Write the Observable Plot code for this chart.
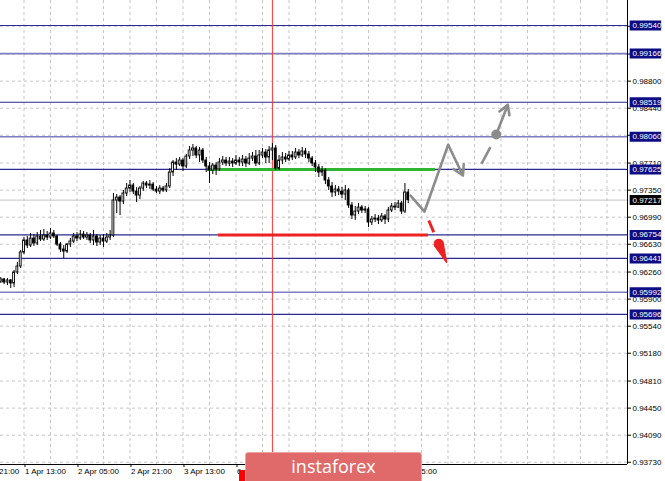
<!DOCTYPE html>
<html><head><meta charset="utf-8">
<script src="https://cdn.jsdelivr.net/npm/d3@7"></script>
<script src="https://cdn.jsdelivr.net/npm/@observablehq/plot@0.6"></script>
<style>
html,body{margin:0;padding:0;background:#fff;}
#wrap{position:relative;width:665px;height:481px;overflow:hidden;}
#logo{position:absolute;left:245px;top:452px;width:177px;height:34px;background:#e06a6a;border:1px solid #f0a3a3;border-radius:3px;box-sizing:border-box;color:#fff;font-family:"Open Sans",sans-serif;font-size:18px;text-align:center;line-height:26px;}
#redtag{position:absolute;left:239px;top:470px;width:7px;height:11px;background:#ff0000;}
</style></head><body>
<div id="wrap"><div id="chart"></div><div id="redtag"></div><div id="logo">instaforex</div></div>
<script>
// H1 candles, first visible bar index (bar 0 = 31 Mar 21:00)
const firstBar = 9;
const open = [0.96134,0.96161,0.96121,0.96148,0.96108,0.96254,0.96334,0.96520,0.96680,0.96613,
0.96706,0.96640,0.96733,0.96693,0.96746,0.96719,0.96773,0.96733,0.96626,0.96560,
0.96533,0.96626,0.96666,0.96733,0.96706,0.96759,0.96719,0.96746,0.96680,0.96733,
0.96653,0.96706,0.96666,0.96719,0.96746,0.97212,0.97251,0.97198,0.97305,0.97371,
0.97411,0.97331,0.97278,0.97371,0.97438,0.97411,0.97424,0.97358,0.97331,0.97371,
0.97345,0.97398,0.97584,0.97717,0.97690,0.97744,0.97664,0.97797,0.97877,0.97904,
0.97811,0.97877,0.97744,0.97664,0.97611,0.97677,0.97624,0.97717,0.97744,0.97704,
0.97730,0.97704,0.97744,0.97717,0.97757,0.97704,0.97770,0.97797,0.97704,0.97811,
0.97850,0.97784,0.97877,0.97904,0.97637,0.97744,0.97784,0.97757,0.97811,0.97784,
0.97850,0.97811,0.97864,0.97824,0.97770,0.97704,0.97651,0.97584,0.97611,0.97478,
0.97398,0.97318,0.97358,0.97331,0.97291,0.97345,0.97145,0.97012,0.97065,0.97118,
0.97079,0.97092,0.96919,0.96959,0.96972,0.96946,0.96999,0.96959,0.97079,0.97132,
0.97118,0.97172,0.97065,0.97318];
const close = [0.96161,0.96121,0.96148,0.96108,0.96254,0.96334,0.96520,0.96680,0.96613,0.96706,
0.96640,0.96733,0.96693,0.96746,0.96719,0.96773,0.96733,0.96626,0.96560,0.96533,
0.96626,0.96666,0.96733,0.96706,0.96759,0.96719,0.96746,0.96680,0.96733,0.96653,
0.96706,0.96666,0.96719,0.96746,0.97212,0.97251,0.97198,0.97305,0.97371,0.97411,
0.97331,0.97278,0.97371,0.97438,0.97411,0.97424,0.97358,0.97331,0.97371,0.97345,
0.97398,0.97584,0.97717,0.97690,0.97744,0.97664,0.97797,0.97877,0.97904,0.97811,
0.97877,0.97744,0.97664,0.97611,0.97677,0.97624,0.97717,0.97744,0.97704,0.97730,
0.97704,0.97744,0.97717,0.97757,0.97704,0.97770,0.97797,0.97704,0.97811,0.97850,
0.97784,0.97877,0.97904,0.97637,0.97744,0.97784,0.97757,0.97811,0.97784,0.97850,
0.97811,0.97864,0.97824,0.97770,0.97704,0.97651,0.97584,0.97611,0.97478,0.97398,
0.97318,0.97358,0.97331,0.97291,0.97345,0.97145,0.97012,0.97065,0.97118,0.97079,
0.97092,0.96919,0.96959,0.96972,0.96946,0.96999,0.96959,0.97079,0.97132,0.97118,
0.97172,0.97065,0.97318,0.97217];
const high = [0.96187,0.96174,0.96174,0.96161,0.96281,0.96387,0.96547,0.96719,0.96733,0.96773,
0.96759,0.96786,0.96813,0.96826,0.96799,0.96839,0.96813,0.96746,0.96653,0.96613,
0.96640,0.96706,0.96773,0.96786,0.96813,0.96799,0.96786,0.96773,0.96813,0.96759,
0.96746,0.96759,0.96773,0.96813,0.97305,0.97291,0.97278,0.97345,0.97438,0.97478,
0.97438,0.97384,0.97398,0.97464,0.97464,0.97478,0.97451,0.97398,0.97411,0.97398,
0.97438,0.97637,0.97744,0.97770,0.97784,0.97770,0.97824,0.97930,0.97957,0.97930,
0.97917,0.97904,0.97784,0.97717,0.97704,0.97717,0.97770,0.97797,0.97784,0.97784,
0.97770,0.97811,0.97784,0.97811,0.97797,0.97837,0.97850,0.97877,0.97877,0.97904,
0.97890,0.97930,0.97970,0.97944,0.97811,0.97850,0.97837,0.97864,0.97864,0.97904,
0.97890,0.97917,0.97904,0.97864,0.97797,0.97744,0.97690,0.97664,0.97637,0.97517,
0.97451,0.97411,0.97398,0.97384,0.97411,0.97371,0.97185,0.97132,0.97172,0.97145,
0.97132,0.97118,0.96999,0.97025,0.97012,0.97039,0.97025,0.97118,0.97172,0.97185,
0.97212,0.97198,0.97438,0.97358];
const low = [0.96108,0.96094,0.96081,0.96041,0.96054,0.96227,0.96307,0.96493,0.96573,0.96586,
0.96600,0.96613,0.96666,0.96666,0.96680,0.96693,0.96706,0.96600,0.96520,0.96440,
0.96507,0.96586,0.96640,0.96666,0.96680,0.96693,0.96680,0.96640,0.96613,0.96600,
0.96613,0.96586,0.96640,0.96680,0.96719,0.97039,0.97012,0.97158,0.97265,0.97318,
0.97291,0.97185,0.97225,0.97331,0.97371,0.97358,0.97331,0.97305,0.97291,0.97318,
0.97318,0.97371,0.97531,0.97611,0.97664,0.97597,0.97637,0.97757,0.97797,0.97770,
0.97717,0.97704,0.97584,0.97438,0.97557,0.97544,0.97597,0.97677,0.97664,0.97664,
0.97651,0.97677,0.97664,0.97664,0.97651,0.97677,0.97730,0.97664,0.97677,0.97770,
0.97704,0.97704,0.97744,0.97611,0.97611,0.97690,0.97717,0.97730,0.97744,0.97757,
0.97770,0.97784,0.97770,0.97717,0.97664,0.97584,0.97517,0.97531,0.97424,0.97345,
0.97251,0.97265,0.97278,0.97238,0.97212,0.97105,0.96959,0.96946,0.97025,0.97039,
0.97039,0.96852,0.96879,0.96919,0.96892,0.96919,0.96892,0.96919,0.97052,0.97079,
0.97105,0.97025,0.97039,0.97172];

// horizontal levels
const darkLevels = [0.99540, 0.98519, 0.97625, 0.96754, 0.96441, 0.95696];
const lightLevels = [0.99166, 0.98060, 0.95992];
const lastPrice = 0.97217;

// price axis ticks
const yTicks = [0.93730,0.94090,0.94450,0.94810,0.95180,0.95540,0.95900,0.96260,0.96630,0.96990,0.97350,0.97710,0.98080,0.98440,0.98800,0.99160,0.99530];

// time axis
const timeBars = [0,16,32,48,64,80,96,112,128];
const timeLabels = ["31 Mar 21:00","1 Apr 13:00","2 Apr 05:00","2 Apr 21:00","3 Apr 13:00","6 Apr 05:00","6 Apr 21:00","7 Apr 13:00","8 Apr 05:00"];
const markerBar = 91;

// drawn support / resistance segments
const resistancePrice = 0.97625, resistanceBars = [71.4, 140.2];
const supportPrice = 0.96754, supportBars = [74.7, 138.1];

// forecast paths
const upPathBar = [132.7, 136.9, 144.06];
const upPathPrice = [0.97278, 0.97065, 0.97953];
const upArrowBar = [144.06, 148.5], upArrowPrice = [0.97953, 0.97544];
const dashBar = [154.1, 156.8], dashPrice = [0.97700, 0.97921];
const dotBar = 158.56, dotPrice = 0.98090;
const breakArrowBar = [158.56, 162.05], breakArrowPrice = [0.98090, 0.98485];
const downDashBar = [138.2, 139.7], downDashPrice = [0.96946, 0.96790];
const downTipBar = [141.2, 143.55], downTipPrice = [0.96636, 0.96391];

const candles = open.map((o, k) => ({bar: firstBar + k, o, c: close[k], h: high[k], l: low[k]}));
const upPath = upPathBar.map((b, k) => ({bar: b, price: upPathPrice[k]}));

const xDomain = [8.906, 198.19];
const yDomain = [0.937, 0.998726];
const boxX1 = 199.0, boxX2 = 208.5, boxTextX = 199.7;
const navy = "#0c0c84", gray = "#8c8c8c", red = "#ee2222";

const fmt = d3.format(".5f");

const chart = Plot.plot({
  width: 665, height: 481,
  marginTop: 0, marginBottom: 17, marginLeft: 0, marginRight: 38,
  x: {type: "linear", domain: xDomain, label: null},
  y: {domain: yDomain, label: null},
  color: {type: "identity"},
  style: {fontFamily: "'Liberation Sans', Arial, sans-serif", fontSize: "8px", background: "#fff", color: "#000"},
  marks: [
    Plot.gridX(d3.range(0, 200, 8), {stroke: "#c6c6c6", strokeOpacity: 1, strokeDasharray: "3,3"}),
    Plot.gridY(yTicks, {stroke: "#c6c6c6", strokeOpacity: 1, strokeDasharray: "3,3"}),
    Plot.ruleY([lastPrice], {stroke: "#c4c4c4"}),
    Plot.ruleY(lightLevels, {stroke: "#7d7dc6", strokeWidth: 1.6}),
    Plot.ruleY(darkLevels, {stroke: "#2a2a92", strokeWidth: 1.2}),
    Plot.ruleX([markerBar], {stroke: "#ff3a3a"}),
    Plot.ruleY([resistancePrice], {x1: () => resistanceBars[0], x2: () => resistanceBars[1], stroke: "#2fb52f", strokeWidth: 3}),
    Plot.ruleY([supportPrice], {x1: () => supportBars[0], x2: () => supportBars[1], stroke: red, strokeWidth: 3}),
    Plot.ruleX(candles, {x: "bar", y1: "l", y2: "h", stroke: "#000", strokeWidth: 1}),
    Plot.rect(candles, {x1: d => d.bar - 0.28, x2: d => d.bar + 0.28, y1: "o", y2: "c",
      fill: d => d.c >= d.o ? "#fff" : "#000", stroke: "#000", strokeWidth: 0.9}),
    // forecast
    Plot.line(upPath, {x: "bar", y: "price", stroke: gray, strokeWidth: 2.6}),
    Plot.arrow([0], {x1: () => upArrowBar[0], y1: () => upArrowPrice[0], x2: () => upArrowBar[1], y2: () => upArrowPrice[1],
      stroke: gray, strokeWidth: 2.6, headLength: 13}),
    Plot.link([0], {x1: () => dashBar[0], y1: () => dashPrice[0], x2: () => dashBar[1], y2: () => dashPrice[1], stroke: gray, strokeWidth: 2.6}),
    Plot.arrow([0], {x1: () => breakArrowBar[0], y1: () => breakArrowPrice[0], x2: () => breakArrowBar[1], y2: () => breakArrowPrice[1],
      stroke: gray, strokeWidth: 2.6, headLength: 13}),
    Plot.dot([0], {x: () => dotBar, y: () => dotPrice, r: 5, fill: gray, stroke: "none"}),
    Plot.link([0], {x1: () => downDashBar[0], y1: () => downDashPrice[0], x2: () => downDashBar[1], y2: () => downDashPrice[1], stroke: red, strokeWidth: 3}),
    Plot.vector([0], {x: () => downTipBar[0], y: () => downTipPrice[0], length: 20, rotate: 157, shape: "spike", r: 4.5, anchor: "start", fill: red, stroke: red}),
    Plot.dot([0], {x: () => downTipBar[0], y: () => downTipPrice[0], r: 5, fill: red, stroke: "none"}),
    // frame
    Plot.ruleX([xDomain[1]], {stroke: "#000"}),
    Plot.ruleY([yDomain[0]], {stroke: "#000", x1: () => xDomain[0], x2: () => xDomain[1]}),
    Plot.axisY(yTicks, {anchor: "right", label: null, tickFormat: fmt, tickSize: 3, tickPadding: 2, fill: "#000"}),
    Plot.axisX(timeBars, {anchor: "bottom", label: null, tickFormat: d => timeLabels[timeBars.indexOf(d)], tickSize: 3, tickPadding: 1, textAnchor: "start", dx: 1, fill: "#000"}),
    // value boxes
    Plot.ruleY(lightLevels.concat(darkLevels), {x1: () => boxX1, x2: () => boxX2, stroke: navy, strokeWidth: 10}),
    Plot.ruleY([lastPrice], {x1: () => boxX1, x2: () => boxX2, stroke: "#000", strokeWidth: 10}),
    Plot.text(lightLevels.concat(darkLevels, [lastPrice]), {x: () => boxTextX, y: d => d, text: fmt, textAnchor: "start", fill: "#fff", fontSize: 8})
  ]
});
document.getElementById("chart").appendChild(chart);
</script></body></html>
